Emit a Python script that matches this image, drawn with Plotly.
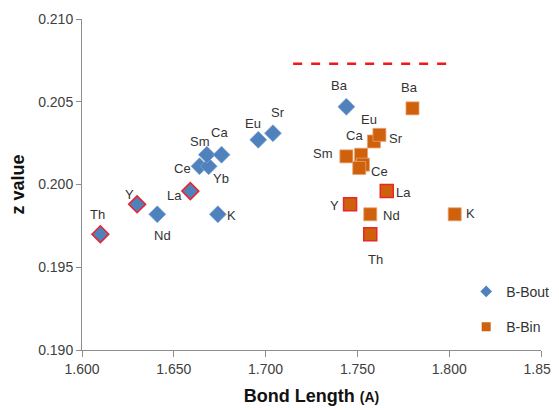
import plotly.graph_objects as go

# B-Bout series (blue diamonds)
bout_labels = ["Th", "Y", "Nd", "La", "Ce", "Yb", "Sm", "Ca", "K", "Eu", "Sr", "Ba"]
bout_x = [1.610, 1.630, 1.641, 1.659, 1.664, 1.669, 1.668, 1.676, 1.674, 1.696, 1.704, 1.744]
bout_y = [0.1970, 0.1988, 0.1982, 0.1996, 0.2011, 0.2011, 0.2018, 0.2018, 0.1982, 0.2027, 0.2031, 0.2047]
bout_flag = [True, True, False, True, False, False, False, False, False, False, False, False]

# B-Bin series (orange squares)
bin_labels = ["Ba", "Eu", "Sr", "Ca", "Sm", "Yb", "Ce", "La", "Y", "Nd", "Th", "K"]
bin_x = [1.780, 1.759, 1.762, 1.752, 1.744, 1.753, 1.751, 1.766, 1.746, 1.757, 1.757, 1.803]
bin_y = [0.2046, 0.2026, 0.2030, 0.2018, 0.2017, 0.2012, 0.2010, 0.1996, 0.1988, 0.1982, 0.1970, 0.1982]
bin_flag = [False, False, False, False, False, False, False, True, True, False, True, False]

# Reference dashed line
ref_x = [1.715, 1.802]
ref_y = [0.2073, 0.2073]

# label offsets in px (dx, dy down-positive)
bout_off = {"Th": (-3, -20), "Y": (-8, -10), "Nd": (5, 21), "La": (-16, 4), "Ce": (-17, 2),
            "Yb": (12, 12), "Sm": (-7, -13), "Ca": (-2, -22), "K": (14, 1), "Eu": (-5, -16),
            "Sr": (5, -21), "Ba": (-7, -21)}
bin_off = {"Ba": (-3, -21), "Eu": (-5, -22), "Sr": (17, 4), "Ca": (-7, -19), "Sm": (-23, -3),
           "Yb": None, "Ce": (20, 4), "La": (17, 1), "Y": (-16, 1), "Nd": (21, 1), "Th": (5, 25),
           "K": (16, -1)}

BLUE = "#4F81BD"
ORANGE = "#CF610C"
RED = "#E8262B"
LBL_FONT = dict(family="Liberation Sans", size=13, color="#333333")

fig = go.Figure()
fig.add_trace(go.Scatter(
    x=ref_x, y=ref_y, mode="lines", showlegend=False,
    line=dict(color="#F01818", width=2.5, dash="dash"), hoverinfo="skip"))

fig.add_trace(go.Scatter(
    x=bout_x, y=bout_y, mode="markers", name="B-Bout", showlegend=False,
    marker=dict(symbol="diamond", size=13, color=BLUE,
                line=dict(color=[RED if f else "#7FA3D0" for f in bout_flag],
                          width=[1.5 if f else 0.8 for f in bout_flag]))))
fig.add_trace(go.Scatter(
    x=bin_x, y=bin_y, mode="markers", name="B-Bin", showlegend=False,
    marker=dict(symbol="square", size=13, color=ORANGE,
                line=dict(color=[RED if f else "#E8A070" for f in bin_flag],
                          width=[1.5 if f else 0.8 for f in bin_flag]))))

# legend entries
fig.add_trace(go.Scatter(x=[None], y=[None], mode="markers", name="B-Bout", legendgroup="a",
                         marker=dict(symbol="diamond", size=9, color=BLUE)))
fig.add_trace(go.Scatter(x=[None], y=[None], mode="markers", name="B-Bin", legendgroup="b",
                         marker=dict(symbol="square", size=9, color=ORANGE)))

annotations = []
for lab, x, y in zip(bout_labels, bout_x, bout_y):
    o = bout_off[lab]
    annotations.append(dict(x=x, y=y, xref="x", yref="y", text=lab, showarrow=False,
                            xshift=o[0], yshift=-o[1], font=LBL_FONT))
for lab, x, y in zip(bin_labels, bin_x, bin_y):
    o = bin_off[lab]
    if o is None:
        continue
    annotations.append(dict(x=x, y=y, xref="x", yref="y", text=lab, showarrow=False,
                            xshift=o[0], yshift=-o[1], font=LBL_FONT))

TICKFONT = dict(family="Liberation Sans", size=14, color="#404040")

# page body has an 8px margin: figure is 551x402 so it sits fully in the 559x410 window
fig.update_layout(
    width=551, height=402,
    margin=dict(l=74, r=18, t=11, b=60, autoexpand=False),
    paper_bgcolor="white", plot_bgcolor="white",
    font=dict(family="Liberation Sans", size=13, color="#404040"),
    annotations=annotations,
    legend=dict(x=0.837, y=0.224, xanchor="left", yanchor="top",
                traceorder="grouped", tracegroupgap=14,
                font=dict(size=14, color="#333333"), itemwidth=30,
                bgcolor="rgba(0,0,0,0)"),
    xaxis=dict(range=[1.600, 1.850], tickvals=[1.60, 1.65, 1.70, 1.75, 1.80, 1.85],
               tickformat=".3f", showgrid=False, zeroline=False, tickfont=TICKFONT,
               showline=True, linecolor="#8C8C8C", linewidth=1, automargin=False,
               ticks="outside", ticklen=6, tickcolor="#8C8C8C",
               title=dict(text="<b>Bond Length <span style='font-size:14px'>(A)</span></b>",
                          font=dict(size=18, color="#111111"), standoff=13)),
    yaxis=dict(range=[0.190, 0.210], tickvals=[0.190, 0.195, 0.200, 0.205, 0.210],
               tickformat=".3f", showgrid=False, zeroline=False, tickfont=TICKFONT,
               showline=True, linecolor="#8C8C8C", linewidth=1, automargin=False,
               ticks="outside", ticklen=5, tickcolor="#8C8C8C",
               title=dict(text="<b>z value</b>", font=dict(size=18, color="#111111"), standoff=9)),
)

fig.write_html("out.html")
